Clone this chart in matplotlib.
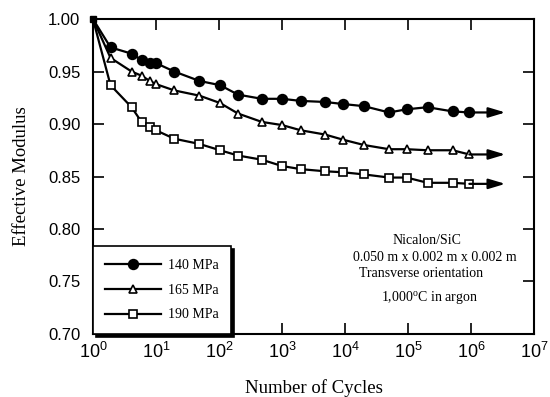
import numpy as np
import matplotlib
matplotlib.use('Agg')
import matplotlib.pyplot as plt

plt.rcParams['font.family'] = 'Liberation Serif'

# cycles at which the modulus was measured (same for all three stresses)
cycles = [1, 1.9, 4.1, 5.9, 8.0, 10, 19.5, 49, 104, 200, 478, 1000, 1990,
          4800, 9400, 20000, 50000, 95000, 204000, 510000, 940000]

mod_140 = [1.000, 0.973, 0.967, 0.961, 0.958, 0.958, 0.950, 0.941, 0.937,
           0.928, 0.924, 0.924, 0.922, 0.921, 0.919, 0.917, 0.911, 0.914,
           0.916, 0.912, 0.911]
mod_165 = [1.000, 0.963, 0.950, 0.946, 0.941, 0.938, 0.932, 0.927, 0.920,
           0.910, 0.902, 0.899, 0.894, 0.890, 0.885, 0.880, 0.876, 0.876,
           0.875, 0.875, 0.871]
mod_190 = [1.000, 0.937, 0.916, 0.902, 0.897, 0.894, 0.886, 0.881, 0.875,
           0.870, 0.866, 0.860, 0.857, 0.855, 0.854, 0.852, 0.849, 0.849,
           0.844, 0.844, 0.843]

labels = ['140 MPa', '165 MPa', '190 MPa']
arrow_end = 3.5e6   # run-out arrows go to here

xticks = [1e0, 1e1, 1e2, 1e3, 1e4, 1e5, 1e6, 1e7]
xticklabels = [r'$\mathregular{10^{%d}}$' % i for i in range(8)]
yticks = [0.70, 0.75, 0.80, 0.85, 0.90, 0.95, 1.00]

fig = plt.figure(figsize=(5.5, 3.97), dpi=100)
ax = fig.add_axes([0.169, 0.1587, 0.802, 0.7934])

series = [
    (mod_140, dict(marker='o', mfc='k', ms=7)),
    (mod_165, dict(marker='^', mfc='white', ms=6)),
    (mod_190, dict(marker='s', mfc='white', ms=5.5)),
]
for (vals, style), lab in zip(series, labels):
    ax.plot(cycles, vals, color='k', lw=1.6, mec='k', mew=1.2,
            markevery=slice(1, None), label=lab, **style)
    ax.annotate('', xy=(arrow_end, vals[-1]), xytext=(cycles[-1], vals[-1]),
                arrowprops=dict(arrowstyle='-|>,head_length=1.0,head_width=0.3',
                                color='k', lw=1.6, shrinkA=0, shrinkB=0))

# common starting point
ax.plot(cycles[0], mod_140[0], marker='s', color='k', ms=5, clip_on=False, zorder=5)

ax.set_xscale('log')
ax.set_xlim(1, 1e7)
ax.set_ylim(0.70, 1.00)
ax.set_xticks(xticks)
ax.set_xticklabels(xticklabels, fontsize=13, family='Liberation Sans')
ax.minorticks_off()
ax.set_yticks(yticks)
ax.set_yticklabels(['%.2f' % v for v in yticks], fontsize=12, family='Liberation Sans')
ax.tick_params(direction='in', length=8, width=1.2, top=True, right=True)
ax.tick_params(axis='y', pad=9)
ax.tick_params(axis='x', pad=6)
for s in ax.spines.values():
    s.set_linewidth(1.5)

ax.set_xlabel('Number of Cycles', fontsize=13.5, labelpad=12)
ax.set_ylabel('Effective Modulus', fontsize=13.5, labelpad=13)

leg = ax.legend(loc='lower left', bbox_to_anchor=(0, 0), borderaxespad=0,
                fancybox=False, edgecolor='k', fontsize=10, handlelength=4,
                handletextpad=0.5, labelspacing=0.85, borderpad=0.9,
                shadow={'color': 'k', 'alpha': 1})
leg.get_frame().set_linewidth(1.2)

ax.text(0.758, 0.285, 'Nicalon/SiC', transform=ax.transAxes, ha='center', fontsize=10)
ax.text(0.774, 0.232, '0.050 m x 0.002 m x 0.002 m', transform=ax.transAxes,
        ha='center', fontsize=10)
ax.text(0.744, 0.18, 'Transverse orientation', transform=ax.transAxes,
        ha='center', fontsize=10)
ax.text(0.764, 0.105, '1,000$\\mathregular{^o}$C in argon', transform=ax.transAxes,
        ha='center', fontsize=10)

fig.savefig('out.png', dpi=100)
